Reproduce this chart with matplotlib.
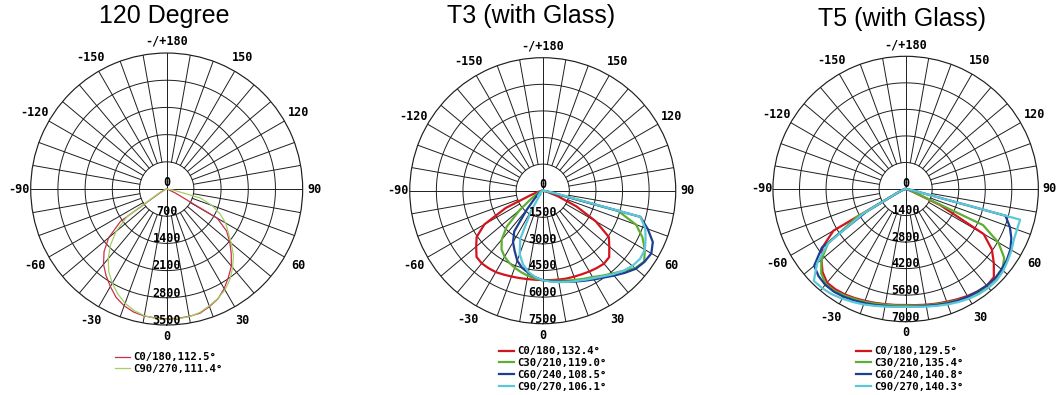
import numpy as np
import matplotlib.pyplot as plt

# polar angle gamma in degrees, 0 = straight down, + towards the C0 side
gamma = list(range(-90, 95, 5))

# ---- 120 Degree (cd, ring step 700) ----
d120_c0 = [0, 0, 10, 20, 40, 80, 200, 1450, 1950, 2280, 2530, 2720, 2900, 3080, 3200, 3280, 3320, 3330, 3340,
           3340, 3330, 3310, 3220, 3120, 2960, 2770, 2590, 2350, 2120, 1880, 1500, 250, 60, 30, 10, 0, 0]
d120_c90 = [0, 0, 20, 40, 80, 150, 300, 1250, 1700, 2050, 2340, 2600, 2800, 2980, 3130, 3240, 3310, 3345, 3355,
            3350, 3340, 3290, 3200, 3110, 3000, 2840, 2640, 2430, 2170, 1930, 1750, 1510, 1250, 900, 200, 30, 0]

# ---- T3 (with Glass) (cd, ring step 1500) ----
t3_c0 = [0, 50, 100, 300, 700, 2300, 3800, 4550, 4900, 5280, 5350, 5330, 5300, 5220, 5150, 5100, 5060, 5040, 5040,
         5060, 5090, 5130, 5160, 5200, 5260, 5320, 5370, 5300, 4900, 4550, 3450, 2100, 900, 300, 100, 50, 0]
t3_c30 = [0, 0, 20, 50, 100, 200, 400, 800, 1700, 2870, 3600, 4050, 4300, 4480, 4620, 4750, 4870, 4970, 5050,
          5100, 5160, 5250, 5350, 5480, 5620, 5850, 6100, 6400, 6800, 6980, 6650, 6200, 5600, 4400, 300, 50, 0]
t3_c60 = [0, 0, 10, 20, 50, 80, 150, 250, 400, 700, 1400, 2800, 3350, 3750, 4200, 4500, 4700, 4900, 5050,
          5120, 5200, 5320, 5450, 5600, 5780, 5980, 6250, 6550, 6850, 7000, 7070, 6850, 6300, 5700, 300, 50, 0]
t3_c90 = [0, 0, 10, 20, 40, 60, 100, 150, 220, 300, 400, 200, 1300, 3000, 3800, 4300, 4650, 4900, 5050,
          5150, 5230, 5330, 5420, 5550, 5700, 5900, 6150, 6400, 6600, 6700, 6650, 6400, 6150, 5700, 500, 50, 0]

# ---- T5 (with Glass) (cd, ring step 1400) ----
t5_c0 = [0, 20, 50, 100, 200, 400, 4400, 5350, 5800, 6200, 6450, 6460, 6420, 6350, 6280, 6220, 6170, 6140, 6120,
         6150, 6200, 6260, 6330, 6420, 6520, 6600, 6660, 6580, 6070, 5550, 4750, 2000, 300, 100, 50, 20, 0]
t5_c30 = [0, 20, 50, 100, 200, 500, 3000, 5000, 5800, 6300, 6550, 6560, 6480, 6400, 6330, 6260, 6200, 6170, 6150,
          6180, 6240, 6290, 6380, 6480, 6600, 6700, 6780, 6780, 6650, 6350, 5650, 4500, 400, 100, 50, 20, 0]
t5_c60 = [0, 20, 50, 100, 200, 500, 2400, 5400, 6300, 6500, 6600, 6610, 6560, 6480, 6400, 6330, 6260, 6230, 6220,
          6225, 6260, 6330, 6420, 6500, 6560, 6610, 6650, 6670, 6600, 6520, 6380, 6150, 5850, 5450, 300, 50, 0]
t5_c90 = [0, 20, 50, 100, 200, 500, 2600, 5000, 6100, 6850, 6840, 6780, 6680, 6580, 6480, 6380, 6300, 6240, 6220,
          6240, 6300, 6380, 6480, 6580, 6680, 6760, 6800, 6800, 6720, 6580, 6450, 6300, 6250, 6250, 300, 50, 0]

angle_ticks = [180, 150, 120, 90, 60, 30, 0, -30, -60, -90, -120, -150]
angle_labels = ['-/+180', '150', '120', '90', '60', '30', '0', '-30', '-60', '-90', '-120', '-150']

MONO = 'DejaVu Sans Mono'
GRID = '#1e1e1e'


def polar_grid(ax, step):
    rmax = 5 * step
    ax.set_theta_zero_location('S')
    ax.set_theta_direction(1)
    ax.set_ylim(0, rmax)
    ax.grid(False)
    ax.set_xticks([])
    ax.set_yticks([])
    ax.spines['polar'].set_color(GRID)
    ax.spines['polar'].set_linewidth(0.85)
    th = np.linspace(0, 2 * np.pi, 361)
    for k in range(1, 5):
        ax.plot(th, np.full_like(th, k * step), color=GRID, lw=0.7, zorder=1)
    for a in range(0, 360, 10):
        r0 = 0 if a % 90 == 0 else step
        ax.plot([np.deg2rad(a)] * 2, [r0, rmax], color=GRID, lw=0.7, zorder=1)
    # ring values along the 0 line
    ax.text(np.pi, 0.045 * rmax, '0', ha='center', va='center', fontsize=8.5,
            family=MONO, weight='bold', zorder=5)
    for k in range(1, 6):
        ax.text(0, k * step - 0.035 * rmax, str(k * step), ha='center', va='center',
                fontsize=8.5, family=MONO, weight='bold', zorder=5)
    for a, lab in zip(angle_ticks, angle_labels):
        rr = 1.085 if a % 90 == 0 else 1.12
        ax.text(np.deg2rad(a), rr * rmax, lab, ha='center', va='center', fontsize=8.5,
                family=MONO, weight='bold', clip_on=False)


fig = plt.figure(figsize=(10.59, 3.95), dpi=100)

charts = [
    ('120 Degree', [0.0290, 0.1772, 0.2568, 0.6886], 700, 0.1555, 0.942,
     [(d120_c0, '#c9304a', 'C0/180,112.5°'), (d120_c90, '#a3cf66', 'C90/270,111.4°')],
     0.9, (0.1086, 0.108)),
    ('T3 (with Glass)', [0.3869, 0.1805, 0.2512, 0.6734], 1500, 0.5017, 0.941,
     [(t3_c0, '#d3141f', 'C0/180,132.4°'), (t3_c30, '#5caf32', 'C30/210,119.0°'),
      (t3_c60, '#1a3f93', 'C60/240,108.5°'), (t3_c90, '#5cc7d8', 'C90/270,106.1°')],
     1.6, (0.4712, 0.123)),
    ('T5 (with Glass)', [0.7299, 0.1856, 0.2506, 0.6719], 1400, 0.8515, 0.933,
     [(t5_c0, '#d3141f', 'C0/180,129.5°'), (t5_c30, '#5caf32', 'C30/210,135.4°'),
      (t5_c60, '#1a3f93', 'C60/240,140.8°'), (t5_c90, '#5cc7d8', 'C90/270,140.3°')],
     1.6, (0.8083, 0.123)),
]

for title, pos, step, tx, ty, curves, lw, leg_xy in charts:
    ax = fig.add_axes(pos, projection='polar')
    polar_grid(ax, step)
    for vals, col, lab in curves:
        ax.plot(np.deg2rad(gamma), vals, color=col, lw=lw, label=lab, zorder=3)
    fig.text(tx, ty, title, ha='center', va='baseline', fontsize=18, family='Liberation Sans')
    ax.legend(loc='upper left', bbox_to_anchor=leg_xy, bbox_transform=fig.transFigure,
              frameon=False, borderpad=0, borderaxespad=0, handlelength=1.4, handletextpad=0.3,
              labelspacing=0.17, prop={'family': MONO, 'weight': 'bold', 'size': 7.7})

fig.savefig('out.png', dpi=100)
